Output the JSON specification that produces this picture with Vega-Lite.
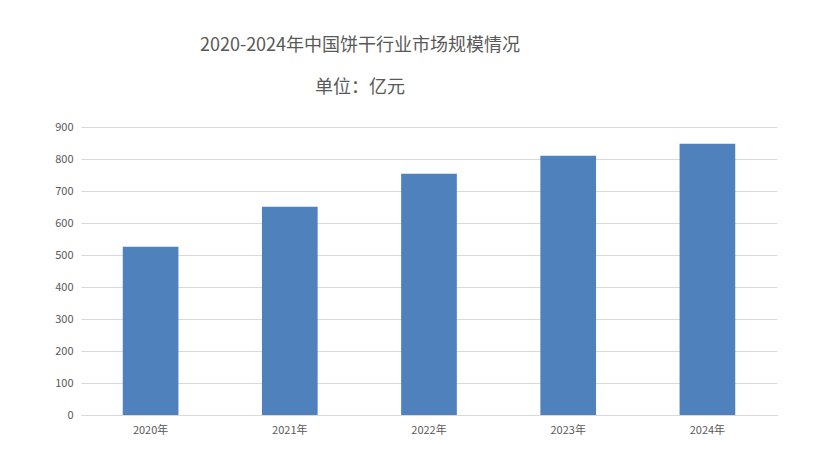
{
  "$schema": "https://vega.github.io/schema/vega-lite/v6.json",
  "autosize": {"type": "none"},
  "width": 696,
  "height": 288,
  "padding": {"left": 81, "top": 127, "right": 45, "bottom": 58},
  "background": "white",
  "title": {
    "text": "2020-2024年中国饼干行业市场规模情况",
    "subtitle": "单位：亿元",
    "anchor": "middle",
    "dx": -69,
    "offset": 24,
    "subtitlePadding": 24,
    "font": "Noto Sans CJK SC",
    "fontSize": 18,
    "fontWeight": "normal",
    "color": "#595959",
    "subtitleFont": "Noto Sans CJK SC",
    "subtitleFontSize": 18,
    "subtitleColor": "#595959"
  },
  "data": {
    "values": [
      {"year": "2020年", "value": 526},
      {"year": "2021年", "value": 651},
      {"year": "2022年", "value": 754},
      {"year": "2023年", "value": 810},
      {"year": "2024年", "value": 848}
    ]
  },
  "mark": {"type": "bar", "color": "#4f81bd"},
  "encoding": {
    "x": {
      "field": "year",
      "type": "nominal",
      "sort": null,
      "scale": {"paddingInner": 0.6, "paddingOuter": 0.3},
      "axis": {
        "title": null,
        "labelAngle": 0,
        "ticks": false,
        "domainColor": "#d9d9d9",
        "labelPadding": 9,
        "labelFont": "Noto Sans CJK SC",
        "labelFontSize": 11,
        "labelColor": "#595959"
      }
    },
    "y": {
      "field": "value",
      "type": "quantitative",
      "scale": {"domain": [0, 900], "nice": false},
      "axis": {
        "title": null,
        "values": [0, 100, 200, 300, 400, 500, 600, 700, 800, 900],
        "domain": false,
        "ticks": false,
        "gridColor": "#d9d9d9",
        "labelPadding": 8,
        "labelFont": "Noto Sans CJK SC",
        "labelFontSize": 11,
        "labelColor": "#595959"
      }
    }
  },
  "config": {"view": {"stroke": null}}
}
